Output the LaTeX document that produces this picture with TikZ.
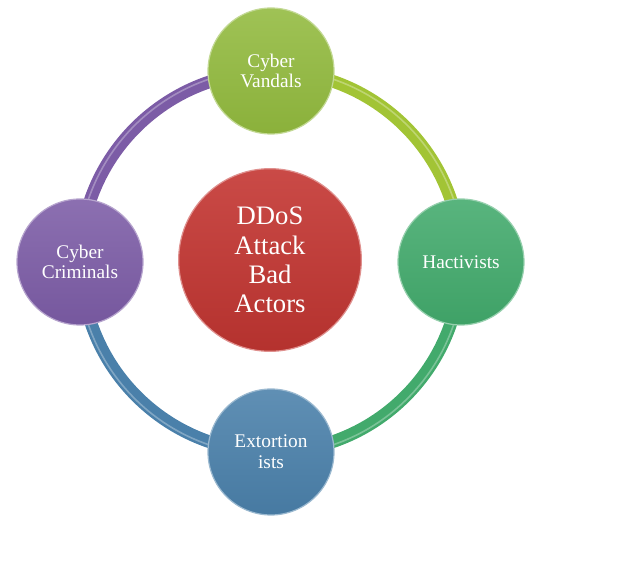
\documentclass[tikz,border=0pt]{standalone}
\usepackage{fontspec}
\setmainfont{Liberation Serif}

\definecolor{vandalgreen}{RGB}{146,186,62}
\definecolor{hactgreen}{RGB}{66,170,108}
\definecolor{extortblue}{RGB}{74,128,170}
\definecolor{crimpurple}{RGB}{124,92,166}
\definecolor{ddosred}{RGB}{196,54,50}

\tikzset{
  actor/.style={circle, minimum size=94.5pt, inner sep=0pt, align=center,
    text=white, font=\fontsize{14.5}{15.5}\selectfont,
    top color=#1!88!white, bottom color=#1!95!black, draw=#1!55!white, line width=0.9pt},
  hub/.style={circle, minimum size=137pt, inner sep=0pt, align=center,
    text=white, font=\fontsize{20}{22}\selectfont,
    top color=#1!90!white, bottom color=#1!92!black, draw=#1!55!white, line width=0.9pt},
  ring/.style={line width=9.5pt, draw=#1},
  gloss/.style={line width=1.2pt, draw=white, opacity=0.3}
}

\begin{document}
\begin{tikzpicture}[x=0.75pt, y=0.75pt]
  \useasboundingbox (0,0) rectangle (640,564);

  \coordinate (ptop) at (271,493);
  \coordinate (pright) at (461,302);
  \coordinate (pbottom) at (271,112);
  \coordinate (pleft) at (80,302);

  \draw[ring=vandalgreen!85!yellow] (ptop) arc[start angle=90, end angle=0, radius=190];
  \draw[ring=hactgreen] (pright) arc[start angle=0, end angle=-90, radius=190];
  \draw[ring=extortblue] (pbottom) arc[start angle=270, end angle=180, radius=190];
  \draw[ring=crimpurple] (pleft) arc[start angle=180, end angle=90, radius=190];
  \draw[gloss] (271,302) ++(90:193) arc[start angle=90, end angle=-270, radius=193];

  \node[hub=ddosred] (ddos) at (270,304) {DDoS\\Attack\\Bad\\Actors};

  \node[actor=vandalgreen] (vandals) at (ptop) {Cyber\\Vandals};
  \node[actor=hactgreen] (hactivists) at (pright) {Hactivists};
  \node[actor=extortblue] (extortionists) at (pbottom) {Extortion\\ists};
  \node[actor=crimpurple] (criminals) at (pleft) {Cyber\\Criminals};
\end{tikzpicture}
\end{document}
